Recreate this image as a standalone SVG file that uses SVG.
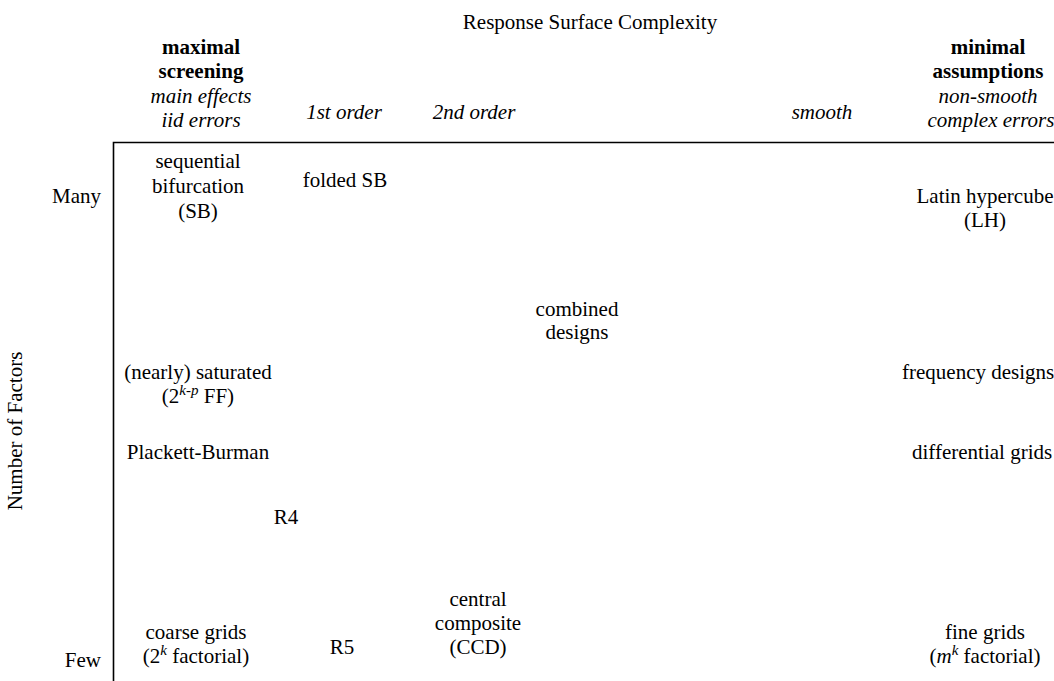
<svg xmlns="http://www.w3.org/2000/svg" width="1054" height="681" viewBox="0 0 1054 681">
<style>
text{font-family:"Liberation Serif","Times New Roman",serif;font-size:21px;fill:#000;text-anchor:middle}
.b{font-weight:bold}
.i{font-style:italic}
.r{text-anchor:end}
.s{text-anchor:start}
.sup{font-size:15px}
</style>
<rect width="1054" height="681" fill="#fff"/>
<g id="axes">
<path d="M113.5,681 V142.5 H1054" fill="none" stroke="#000" stroke-width="1.6"/>
</g>
<g id="title"><text x="590" y="29">Response Surface Complexity</text></g>
<g id="yaxis-title"><text transform="translate(22,431) rotate(-90)">Number of Factors</text></g>
<g id="col-max">
<text class="b" x="201" y="54">maximal</text>
<text class="b" x="201" y="78">screening</text>
<text class="i" x="201" y="103">main effects</text>
<text class="i" x="201" y="127">iid errors</text>
</g>
<g id="col-1st"><text class="i" x="344" y="119">1st order</text></g>
<g id="col-2nd"><text class="i" x="474" y="119">2nd order</text></g>
<g id="col-smooth"><text class="i" x="822" y="119">smooth</text></g>
<g id="col-min">
<text class="b" x="988" y="54">minimal</text>
<text class="b" x="988" y="78">assumptions</text>
<text class="i" x="988" y="103">non-smooth</text>
<text class="i" x="991" y="127">complex errors</text>
</g>
<g id="row-many"><text class="r" x="101" y="203">Many</text></g>
<g id="row-few"><text class="r" x="101" y="667">Few</text></g>
<g id="sb">
<text x="198" y="168">sequential</text>
<text x="198" y="193">bifurcation</text>
<text x="198" y="218">(SB)</text>
</g>
<g id="folded-sb"><text x="345" y="187">folded SB</text></g>
<g id="lh">
<text x="985" y="203">Latin hypercube</text>
<text x="985" y="227">(LH)</text>
</g>
<g id="combined">
<text x="577" y="316">combined</text>
<text x="577" y="339">designs</text>
</g>
<g id="saturated">
<text x="198" y="379">(nearly) saturated</text>
<text x="198" y="403">(2<tspan class="sup i" dy="-8">k-p</tspan><tspan dy="8"> FF)</tspan></text>
</g>
<g id="pb"><text x="198" y="459">Plackett-Burman</text></g>
<g id="freq"><text class="s" x="902" y="379">frequency designs</text></g>
<g id="diff"><text class="s" x="912" y="459">differential grids</text></g>
<g id="r4"><text x="286" y="524">R4</text></g>
<g id="ccd">
<text x="478" y="606">central</text>
<text x="478" y="630">composite</text>
<text x="478" y="654">(CCD)</text>
</g>
<g id="coarse">
<text x="196" y="639">coarse grids</text>
<text x="196" y="663">(2<tspan class="sup i" dy="-8">k</tspan><tspan dy="8"> factorial)</tspan></text>
</g>
<g id="r5"><text x="342" y="654">R5</text></g>
<g id="fine">
<text x="985" y="639">fine grids</text>
<text x="985" y="663">(<tspan class="i">m</tspan><tspan class="sup i" dy="-8">k</tspan><tspan dy="8"> factorial)</tspan></text>
</g>
</svg>
